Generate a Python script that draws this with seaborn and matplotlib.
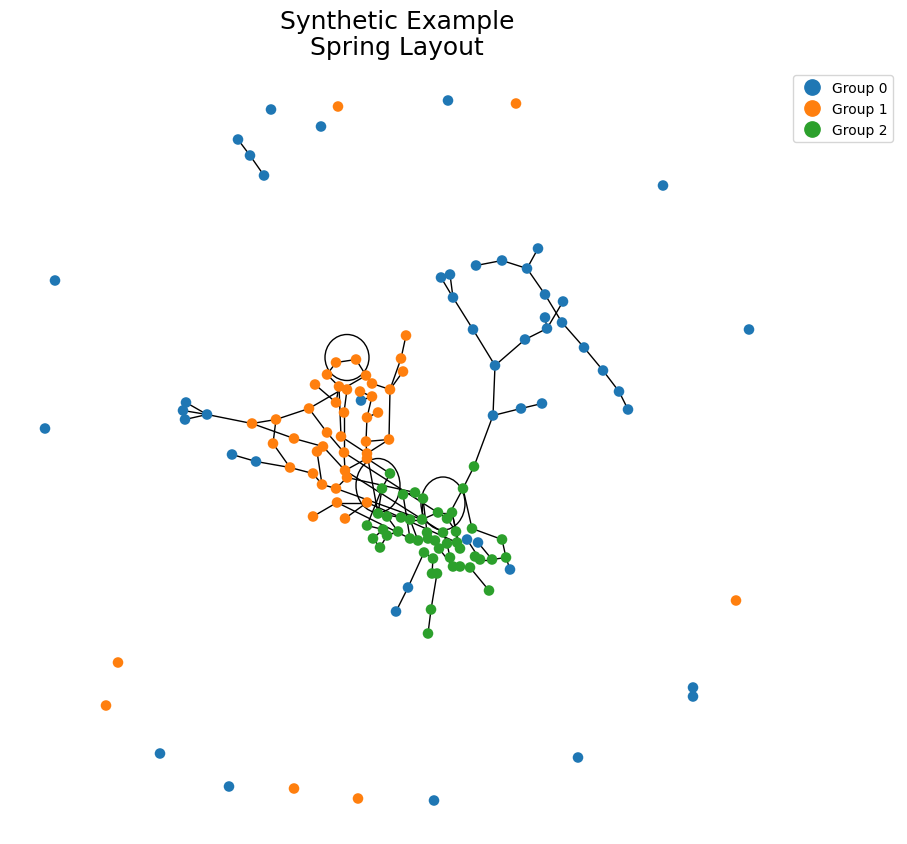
import matplotlib
matplotlib.use("Agg")
import matplotlib.pyplot as plt
from matplotlib.lines import Line2D
from matplotlib.patches import Ellipse
import seaborn as sns
import pandas as pd

# node positions (pixel space, y down)
node_x = [271, 321, 448, 663, 55, 749, 45, 693, 693, 160, 229, 434, 578, 238, 250, 264,
          441, 450, 453, 473, 495, 476, 502, 527, 538, 545, 563, 545, 547, 562, 525, 584,
          603, 619, 628, 493, 521, 542, 186, 183, 185, 207, 232, 256, 361, 467, 478, 510,
          408, 396,
          338, 516, 736, 118, 106, 294, 358, 406, 401, 403, 356, 336, 327, 366, 372, 315,
          339, 347, 360, 390, 372, 336, 309, 378, 344, 367, 276, 252, 327, 341, 294, 389,
          366, 273, 323, 317, 344, 367, 367, 290, 345, 347, 313, 322, 336, 337, 367, 313,
          345,
          474, 390, 382, 463, 403, 415, 423, 378, 387, 401, 410, 422, 438, 452, 447, 367,
          472, 383, 398, 443, 456, 427, 373, 387, 410, 418, 428, 435, 447, 457, 502, 380,
          439, 460, 424, 450, 475, 480, 492, 506, 433, 453, 460, 470, 432, 437, 489, 431,
          428]
node_y = [109, 126, 100, 185, 280, 329, 428, 687, 696, 753, 786, 800, 757, 139, 155, 175,
          277, 274, 297, 329, 365, 265, 260, 268, 248, 294, 301, 317, 328, 322, 339, 347,
          370, 391, 409, 415, 408, 403, 402, 410, 419, 414, 454, 461, 400, 539, 542, 569,
          587, 611,
          106, 103, 600, 662, 705, 788, 798, 335, 358, 371, 359, 362, 374, 375, 383, 384,
          386, 389, 391, 389, 396, 402, 408, 412, 412, 417, 419, 423, 432, 436, 438, 439,
          441, 443, 446, 451, 452, 453, 458, 467, 470, 477, 473, 484, 488, 502, 502, 516,
          518,
          466, 473, 488, 488, 494, 492, 498, 513, 516, 517, 519, 519, 512, 512, 518, 525,
          528, 529, 531, 532, 531, 532, 538, 535, 538, 540, 538, 540, 543, 542, 539, 547,
          548, 548, 552, 557, 556, 559, 559, 557, 558, 566, 566, 567, 573, 573, 590, 609,
          633]
node_group = [0] * 50 + [1] * 49 + [2] * 49

edges = [(13, 14), (14, 15),
         (16, 18), (17, 18), (18, 19), (19, 20), (21, 22), (22, 23), (23, 24), (23, 25),
         (25, 29), (29, 31), (31, 32), (32, 33), (33, 34), (26, 28), (27, 28), (28, 30),
         (30, 20), (20, 35), (35, 36), (36, 37), (35, 99),
         (38, 41), (39, 41), (40, 41), (41, 77), (42, 43), (43, 89),
         (57, 58), (58, 69), (59, 69), (60, 61), (61, 62), (62, 66), (63, 64), (64, 69),
         (63, 72), (66, 71), (66, 79), (67, 74), (74, 86), (65, 71), (68, 70), (69, 81),
         (70, 75), (75, 82), (72, 76), (72, 78), (76, 77), (76, 83), (77, 80), (80, 84),
         (83, 89), (89, 92), (78, 86), (79, 87), (81, 82), (81, 87), (82, 88), (85, 93),
         (84, 90), (86, 90), (88, 90), (90, 91), (91, 94), (93, 94), (95, 96), (96, 98),
         (97, 95), (44, 70), (73, 75), (60, 63), (92, 93),
         (88, 100), (87, 106), (91, 104), (94, 110), (86, 113), (95, 123), (90, 118),
         (96, 128),
         (99, 102), (100, 101), (101, 106), (102, 113), (103, 104), (104, 105), (105, 120),
         (106, 108), (107, 117), (108, 109), (109, 110), (110, 111), (111, 112), (112, 119),
         (114, 116), (116, 121), (117, 122), (121, 130), (122, 130), (123, 124), (124, 125),
         (125, 126), (126, 131), (127, 134), (128, 132), (129, 138), (45, 136), (46, 137),
         (115, 129), (119, 128), (118, 127), (120, 125), (133, 139), (139, 143), (143, 144),
         (144, 146), (146, 147), (131, 140), (140, 141), (141, 142), (142, 145), (134, 140),
         (135, 136), (136, 137), (137, 138), (138, 47), (133, 48), (48, 49), (103, 123),
         (105, 110), (101, 114), (102, 115), (113, 119), (109, 124), (112, 132)]

# self loops drawn as ellipses: centre, width, height
loop_cx = [347, 378, 443]
loop_cy = [357, 485, 503]
loop_w = [44, 44, 44]
loop_h = [46, 54, 53]

df = pd.DataFrame({"x": node_x, "y": node_y, "group": node_group})
palette = {0: "#1f77b4", 1: "#ff7f0e", 2: "#2ca02c"}

sns.set_style("white")
fig = plt.figure(figsize=(9.07, 8.45), dpi=100)
ax = fig.add_axes([0, 0, 1, 1])

for a, b in edges:
    ax.plot([node_x[a], node_x[b]], [node_y[a], node_y[b]], color="black", lw=1, zorder=1)
for cx, cy, w, h in zip(loop_cx, loop_cy, loop_w, loop_h):
    ax.add_patch(Ellipse((cx, cy), w, h, fill=False, edgecolor="black", lw=1, zorder=1))

sns.scatterplot(data=df, x="x", y="y", hue="group", palette=palette, s=58,
                linewidth=0, legend=False, ax=ax, zorder=2)

ax.set_xlim(0, 907)
ax.set_ylim(843.5, -1.5)
ax.axis("off")

handles = [Line2D([], [], marker="o", ls="", color=palette[g], markersize=11,
                  label=f"Group {g}") for g in range(3)]
leg = ax.legend(handles=handles, loc="upper right", bbox_to_anchor=(0.992, 0.918),
                fontsize=10, handletextpad=0.4)
for t in leg.get_texts():
    t.set_color("black")

fig.text(397 / 907, 1 - 35 / 845, "Synthetic Example\nSpring Layout",
         ha="center", va="center", fontsize=18, linespacing=1.1, color="black")

fig.savefig("out.png", dpi=100)
